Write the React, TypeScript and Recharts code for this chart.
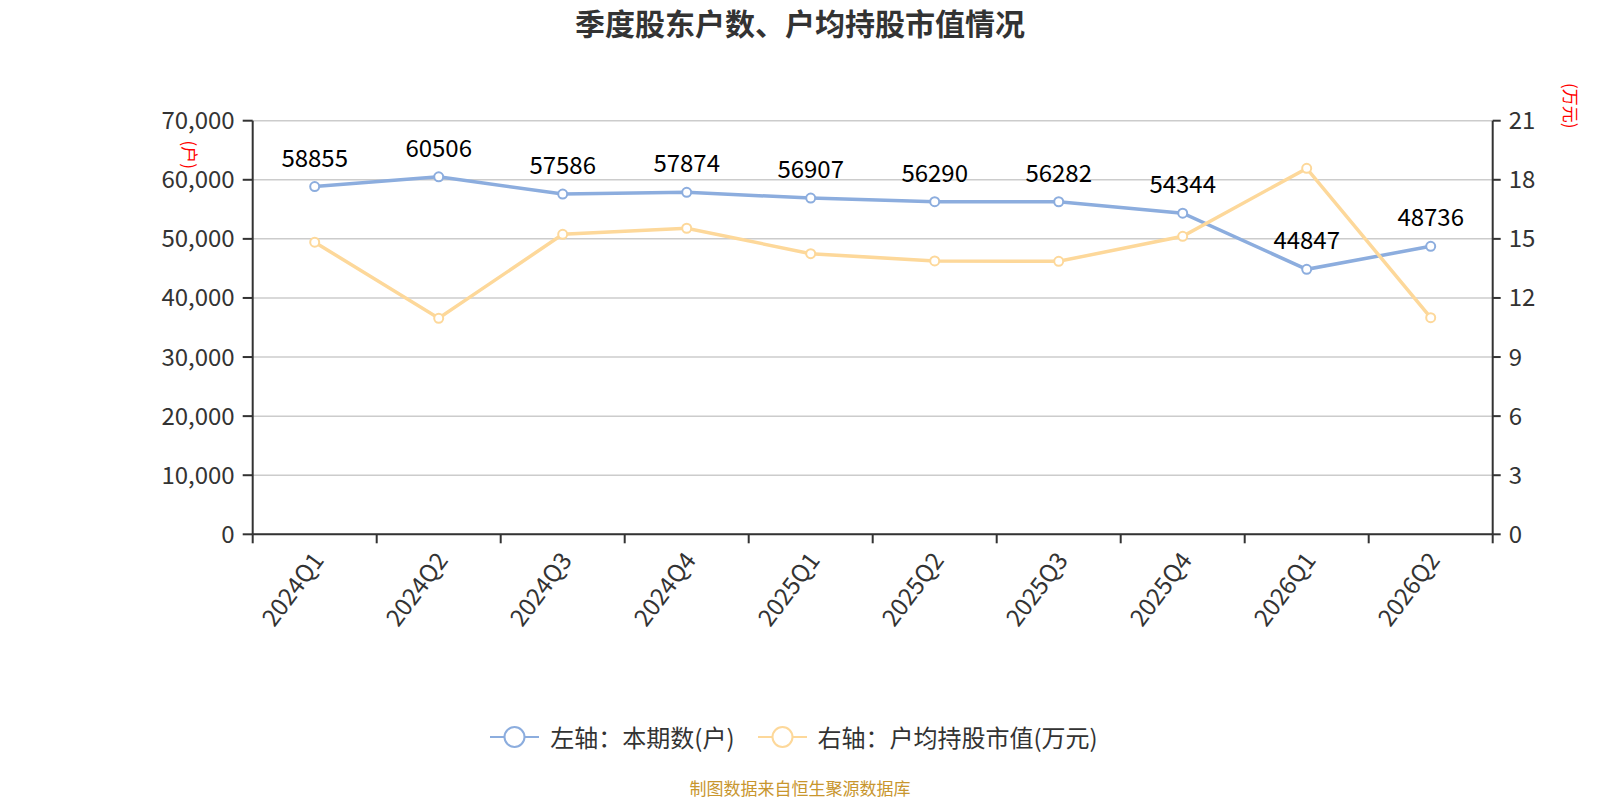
import React from 'react';
import { CartesianGrid, LabelList, Legend, Line, LineChart, XAxis, YAxis } from 'recharts';

const categories = ['2024Q1', '2024Q2', '2024Q3', '2024Q4', '2025Q1', '2025Q2', '2025Q3', '2025Q4', '2026Q1', '2026Q2'];
const holders = [58855, 60506, 57586, 57874, 56907, 56290, 56282, 54344, 44847, 48736];
const avgValue = [14.83, 10.97, 15.23, 15.54, 14.25, 13.88, 13.86, 15.13, 18.58, 11.0];
const leftTicks = [0, 10000, 20000, 30000, 40000, 50000, 60000, 70000];
const rightTicks = [0, 3, 6, 9, 12, 15, 18, 21];
const seriesNames = ['左轴：本期数(户)', '右轴：户均持股市值(万元)'];

const BLUE = '#8cadde';
const YELLOW = '#fdd89a';
const AXIS = '#333';
const FONT = '"Noto Sans CJK SC", "Noto Sans", sans-serif';

// x is numeric so tick marks can sit on category boundaries while labels sit at centres
const data = categories.map((name, i) => ({ pos: i + 0.5, name, holders: holders[i], avgValue: avgValue[i] }));
const xTicks = categories.flatMap((_, i) => [i, i + 0.5]).concat(categories.length);

function XTick(props: any) {
  const { x, y, payload } = props;
  const v = payload.value;
  if (Number.isInteger(v)) {
    return <line x1={x} y1={y} x2={x} y2={y + 9} stroke={AXIS} strokeWidth={2} />;
  }
  const tx = x + 2;
  const ty = y + 20;
  return (
    <text
      x={tx}
      y={ty}
      transform={`rotate(-53 ${tx} ${ty})`}
      textAnchor="end"
      dominantBaseline="central"
      fontSize={24}
      fill={AXIS}
      fontFamily={FONT}
    >
      {categories[Math.floor(v)]}
    </text>
  );
}

function LeftUnit(props: any) {
  const { viewBox } = props;
  const cx = viewBox.x + viewBox.width - 62;
  const cy = viewBox.y + 34;
  return (
    <text x={cx} y={cy} transform={`rotate(90 ${cx} ${cy})`} textAnchor="middle" dominantBaseline="central" fill="#ff0000" fontSize={17} fontFamily={FONT}>
      (户)
    </text>
  );
}

function RightUnit(props: any) {
  const { viewBox } = props;
  const cx = viewBox.x + 79;
  const cy = viewBox.y - 15;
  return (
    <text x={cx} y={cy} transform={`rotate(90 ${cx} ${cy})`} textAnchor="middle" dominantBaseline="central" fill="#ff0000" fontSize={17} fontFamily={FONT}>
      (万元)
    </text>
  );
}

function LegendContent(props: any) {
  const { payload = [] } = props;
  const items = [...payload].sort((a: any, b: any) => seriesNames.indexOf(a.value) - seriesNames.indexOf(b.value));
  return (
    <div style={{ display: 'flex', justifyContent: 'center', alignItems: 'center', height: 40, fontFamily: FONT, fontSize: 24, color: AXIS, marginLeft: -12 }}>
      {items.map((entry: any, i: number) => (
        <div key={entry.value} style={{ display: 'flex', alignItems: 'center', marginLeft: i ? 23 : 0 }}>
          <svg width={49} height={24}>
            <line x1={0} y1={12} x2={49} y2={12} stroke={entry.color} strokeWidth={2} />
            <circle cx={24.5} cy={12} r={10} fill="#fff" stroke={entry.color} strokeWidth={2} />
          </svg>
          <span style={{ marginLeft: 11 }}>{entry.value}</span>
        </div>
      ))}
    </div>
  );
}

export default function App() {
  return (
    <div style={{ position: 'absolute', left: 0, top: 0, width: 1600, height: 800, background: '#fff', fontFamily: FONT }}>
      <div style={{ position: 'absolute', top: 0, left: 0, width: 1600, height: 45, lineHeight: '45px', textAlign: 'center', fontSize: 30, fontWeight: 'bold', color: AXIS }}>
        季度股东户数、户均持股市值情况
      </div>
      <LineChart width={1600} height={800} data={data} margin={{ top: 120.7, right: 0, bottom: 43.3, left: 0 }}>
        <CartesianGrid horizontal vertical={false} stroke="#ccc" strokeWidth={1.5} yAxisId="left" />
        <XAxis
          dataKey="pos"
          type="number"
          domain={[0, categories.length]}
          ticks={xTicks}
          interval={0}
          height={182.4}
          tickSize={0}
          tickMargin={0}
          tickLine={false}
          axisLine={{ stroke: AXIS, strokeWidth: 2 }}
          tick={<XTick />}
        />
        <YAxis
          yAxisId="left"
          width={252.7}
          domain={[0, 70000]}
          ticks={leftTicks}
          tickFormatter={(v: number) => v.toLocaleString('en-US')}
          tick={{ fill: AXIS, fontSize: 24, fontFamily: FONT }}
          tickSize={10}
          tickMargin={8}
          tickLine={{ stroke: AXIS, strokeWidth: 2 }}
          axisLine={{ stroke: AXIS, strokeWidth: 2 }}
          label={{ content: <LeftUnit /> }}
        />
        <YAxis
          yAxisId="right"
          orientation="right"
          width={107.3}
          domain={[0, 21]}
          ticks={rightTicks}
          tick={{ fill: AXIS, fontSize: 24, fontFamily: FONT }}
          tickSize={8}
          tickMargin={8}
          tickLine={{ stroke: AXIS, strokeWidth: 2 }}
          axisLine={{ stroke: AXIS, strokeWidth: 2 }}
          label={{ content: <RightUnit /> }}
        />
        <Legend verticalAlign="bottom" wrapperStyle={{ height: 40 }} content={<LegendContent />} />
        <Line
          yAxisId="left"
          name={seriesNames[0]}
          dataKey="holders"
          type="linear"
          stroke={BLUE}
          strokeWidth={3.5}
          dot={{ r: 4.5, fill: '#fff', stroke: BLUE, strokeWidth: 2 }}
          activeDot={false}
          isAnimationActive={false}
        >
          <LabelList dataKey="holders" position="top" offset={20} fill="#000" fontSize={24} fontFamily={FONT} />
        </Line>
        <Line
          yAxisId="right"
          name={seriesNames[1]}
          dataKey="avgValue"
          type="linear"
          stroke={YELLOW}
          strokeWidth={3.5}
          dot={{ r: 4.5, fill: '#fff', stroke: YELLOW, strokeWidth: 2 }}
          activeDot={false}
          isAnimationActive={false}
        />
      </LineChart>
      <div style={{ position: 'absolute', top: 777, left: 0, width: 1600, height: 22, lineHeight: '22px', textAlign: 'center', fontSize: 17, color: '#c8962e' }}>
        制图数据来自恒生聚源数据库
      </div>
    </div>
  );
}
